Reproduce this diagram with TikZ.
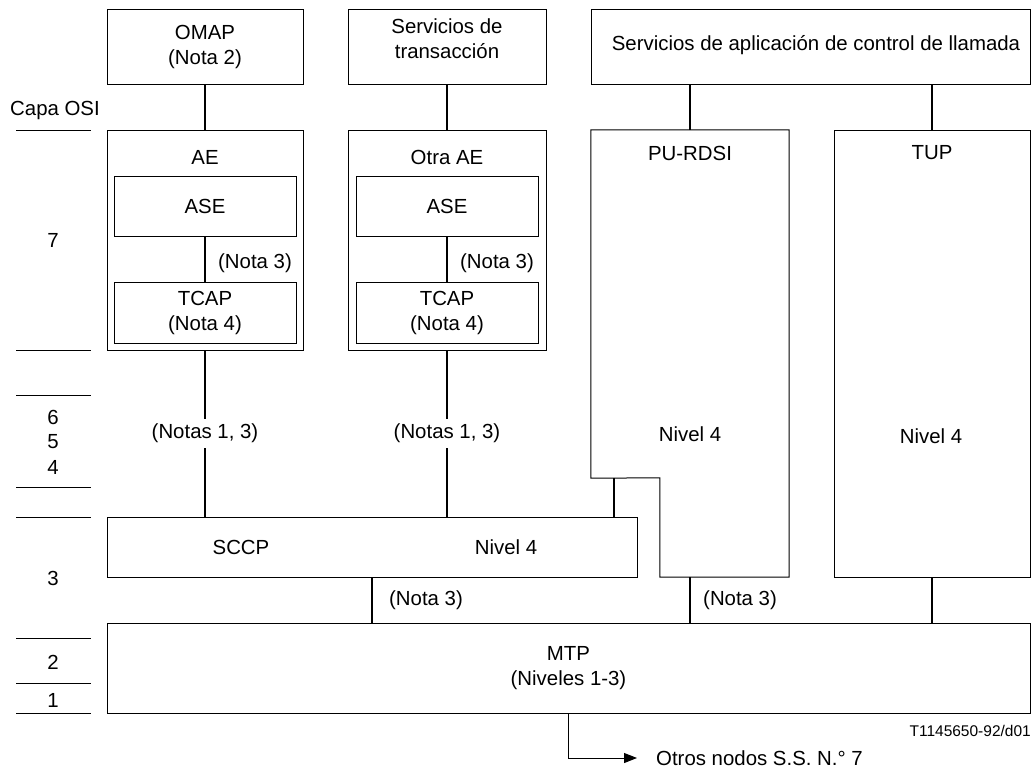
\documentclass[tikz,border=0pt]{standalone}
\usepackage{fontspec}
\setmainfont{Liberation Sans}
\usetikzlibrary{arrows.meta}
\begin{document}
\begin{tikzpicture}[x=1pt,y=-1pt,
  box/.style={draw, line width=1pt, inner sep=0pt, align=center},
  txt/.style={inner sep=0pt, align=center, font=\fontsize{20.4}{25}\selectfont},
  link/.style={line width=1.9pt},
  layer/.style={line width=0.9pt},
  notelbl/.style={txt, fill=white, inner xsep=2pt, inner ysep=5pt},
  every node/.style={font=\fontsize{20.4}{25}\selectfont}]
\fill[white] (0,0) rectangle (1034,769);
\useasboundingbox (0,0) rectangle (1034,769);

% upper service boxes
\node[box, minimum width=196pt, minimum height=75pt] (omap) at (205,46.5) {OMAP\\(Nota 2)};
\node[box, minimum width=198pt, minimum height=75pt] (trans) at (447,46.5) {};
\node[txt] (transt) at (447,38.5) {Servicios de\\transacción};
\node[box, minimum width=439pt, minimum height=75pt] (app) at (810.5,46.5) {};
\node[txt] (appt) at (816,45) {Servicios de aplicación de control de llamada};

% application entities
\node[box, minimum width=196pt, minimum height=220pt] (ae) at (205,240) {};
\node[txt] (aet) at (205,157) {AE};
\node[box, minimum width=182pt, minimum height=60pt] (ase1) at (205,206) {ASE};
\node[box, minimum width=182pt, minimum height=61pt] (tcap1) at (205,312.5) {TCAP\\(Nota 4)};

\node[box, minimum width=198pt, minimum height=220pt] (otra) at (447,240) {};
\node[txt] (otrat) at (447,157) {Otra AE};
\node[box, minimum width=182pt, minimum height=60pt] (ase2) at (447,206) {ASE};
\node[box, minimum width=182pt, minimum height=61pt] (tcap2) at (447,312.5) {TCAP\\(Nota 4)};

% user parts
\node[inner sep=0pt, minimum width=198pt, minimum height=348pt] (pu) at (690,304) {};
\node[inner sep=0pt, minimum width=129pt, minimum height=99pt] (pulow) at (724.5,527.5) {};
\draw[line width=1pt] (pu.north west) -- (pu.north east) -- (pulow.south east)
  -- (pulow.south west) -- (pulow.north west) -- (pu.south west) -- cycle;
\node[txt] (put) at (690,153) {PU-RDSI};
\node[txt] (pun) at (690,434) {Nivel 4};

\node[box, minimum width=196pt, minimum height=447pt] (tup) at (932,353.5) {};
\node[txt] (tupt) at (932,153) {TUP};
\node[txt] (tupn) at (931,436) {Nivel 4};

% SCCP and MTP
\node[box, minimum width=530pt, minimum height=60pt] (sccp) at (372,547) {};
\node[txt] (sccpt) at (241,547) {SCCP};
\node[txt] (sccpn) at (506,547) {Nivel 4};
\node[box, minimum width=923pt, minimum height=90pt] (mtp) at (568.5,668) {MTP\\(Niveles 1-3)};

% connectors
\draw[link] (omap.south) -- (ae.north);
\draw[link] (trans.south) -- (otra.north);
\draw[link] (app.south -| pu.north) -- (pu.north);
\draw[link] (app.south -| tup.north) -- (tup.north);
\draw[link] (ase1.south) -- (tcap1.north);
\draw[link] (ase2.south) -- (tcap2.north);
\node[txt, anchor=west] (n3a) at (218,263) {(Nota 3)};
\node[txt, anchor=west] (n3b) at (460,263) {(Nota 3)};
\draw[link] (ae.south) -- (ae.south |- sccp.north);
\draw[link] (otra.south) -- (otra.south |- sccp.north);
\node[notelbl] (n13a) at (205,433) {(Notas 1, 3)};
\node[notelbl] (n13b) at (447,433) {(Notas 1, 3)};
\draw[link] ([xshift=-76pt]pu.south) -- ([xshift=-76pt]pu.south |- sccp.north);
\draw[link] (sccp.south) -- (sccp.south |- mtp.north);
\draw[link] (pulow.south -| pu.south) -- (pu.south |- mtp.north);
\draw[link] (tup.south) -- (tup.south |- mtp.north);
\node[txt, anchor=west] (n3c) at (389,600) {(Nota 3)};
\node[txt, anchor=west] (n3d) at (703,600) {(Nota 3)};

% link to other nodes
\node[txt, anchor=west] (otros) at (656,758) {Otros nodos S.S. N.° 7};
\draw[line width=1pt, -{Triangle[length=13pt,width=10pt]}]
  (mtp.south) |- ([xshift=-19pt]otros.west);
\node[inner sep=0pt, anchor=east, font=\fontsize{15.5}{18}\selectfont] (ref) at (1031,731) {T1145650-92/d01};

% OSI layer scale
\node[txt] (capa) at (55,110) {Capa OSI};
\foreach \yy in {130,350,395,487,517,638,683,713}
  \draw[layer] (16,\yy) -- (91,\yy);
\node[txt] (l7) at (53,240) {7};
\node[txt] (l6) at (53,417) {6};
\node[txt] (l5) at (53,442) {5};
\node[txt] (l4) at (53,467) {4};
\node[txt] (l3) at (53,578) {3};
\node[txt] (l2) at (53,662) {2};
\node[txt] (l1) at (53,700) {1};
\end{tikzpicture}
\end{document}
